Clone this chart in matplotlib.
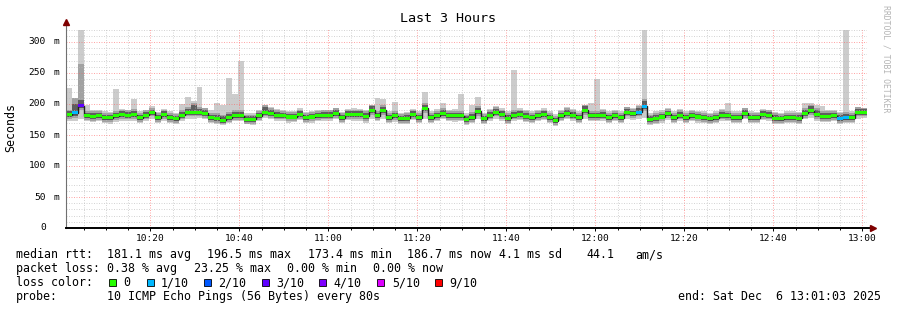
import matplotlib
matplotlib.use('Agg')
import matplotlib.pyplot as plt
import matplotlib.dates as mdates
from matplotlib.patches import Rectangle
import numpy as np
import datetime as dt

# one consolidated sample every 80 s, 10:01:03 -> 13:01:03
start = dt.datetime(2025, 12, 6, 10, 1, 3)
end = dt.datetime(2025, 12, 6, 13, 1, 3)
step_s = 80

# median rtt (ms) per step
med = [183, 186, 197, 181, 180, 181, 178, 178, 181, 183, 182, 183, 178, 182, 187,
       178, 183, 178, 176, 182, 187, 187, 187, 185, 178, 177, 174, 178, 181, 181,
       175, 175, 181, 187, 185, 182, 182, 179, 179, 183, 178, 179, 181, 182, 182,
       185, 178, 183, 183, 183, 180, 190, 181, 190, 178, 181, 176, 177, 183, 178,
       193, 178, 181, 184, 181, 181, 181, 175, 178, 188, 176, 182, 187, 183, 177,
       182, 183, 180, 178, 181, 183, 178, 173, 181, 185, 182, 178, 190, 181, 181,
       182, 178, 181, 178, 187, 184, 187, 196, 175, 177, 179, 184, 178, 182, 178,
       181, 179, 178, 176, 178, 182, 181, 178, 178, 185, 178, 178, 183, 182, 177,
       176, 178, 178, 177, 185, 189, 183, 180, 180, 181, 177, 178, 178, 187, 187]

# slowest / fastest ping per step (outer smoke)
hi = [225, 210, 320, 198, 190, 190, 188, 187, 224, 192, 190, 208, 188, 190, 196,
      187, 192, 189, 186, 200, 212, 205, 227, 194, 190, 202, 198, 242, 216, 270,
      186, 186, 190, 198, 195, 192, 190, 188, 188, 193, 187, 188, 190, 191, 190,
      194, 187, 192, 193, 192, 190, 198, 210, 208, 188, 203, 186, 187, 192, 188,
      220, 188, 192, 201, 191, 192, 216, 186, 198, 212, 186, 192, 196, 193, 188,
      255, 193, 190, 188, 191, 193, 188, 184, 190, 195, 192, 188, 198, 202, 240,
      192, 188, 190, 188, 195, 193, 198, 320, 186, 188, 190, 193, 188, 192, 188,
      191, 189, 188, 186, 188, 192, 202, 188, 188, 194, 188, 187, 192, 191, 187,
      186, 188, 189, 187, 202, 202, 198, 196, 190, 190, 187, 320, 188, 195, 193]
lo = [172, 172, 176, 172, 171, 172, 170, 168, 171, 173, 172, 172, 169, 172, 176,
      170, 173, 169, 167, 172, 176, 176, 177, 175, 169, 168, 166, 169, 172, 172,
      167, 166, 172, 177, 176, 173, 172, 170, 171, 174, 169, 170, 172, 173, 173,
      175, 169, 174, 173, 172, 170, 175, 172, 176, 169, 171, 167, 168, 174, 169,
      176, 169, 172, 175, 172, 171, 172, 166, 169, 176, 167, 172, 176, 173, 168,
      172, 174, 171, 169, 172, 174, 169, 165, 172, 175, 173, 169, 175, 172, 172,
      173, 169, 172, 169, 176, 174, 176, 178, 166, 168, 170, 174, 169, 172, 169,
      172, 170, 169, 167, 169, 173, 172, 169, 169, 175, 169, 169, 174, 173, 168,
      167, 169, 169, 168, 175, 178, 173, 171, 171, 172, 168, 169, 169, 176, 177]

# middle smoke band
hi_m = [191, 210, 265, 189, 188, 189, 186, 186, 189, 191, 190, 192, 186, 190, 194,
        186, 191, 186, 184, 190, 195, 201, 195, 193, 186, 185, 183, 187, 190, 190,
        183, 183, 189, 198, 193, 190, 189, 187, 187, 191, 186, 187, 189, 190, 190,
        193, 186, 191, 191, 191, 188, 198, 189, 198, 186, 189, 184, 185, 191, 186,
        201, 186, 189, 193, 189, 189, 189, 183, 187, 196, 184, 190, 195, 191, 185,
        190, 191, 188, 186, 189, 191, 186, 181, 189, 193, 190, 186, 198, 189, 189,
        190, 186, 189, 186, 195, 192, 196, 208, 183, 185, 187, 192, 186, 190, 186,
        189, 187, 186, 184, 186, 190, 189, 186, 186, 193, 186, 186, 191, 190, 185,
        184, 186, 186, 185, 194, 199, 193, 189, 189, 189, 185, 187, 186, 195, 193]
lo_m = [176, 178, 190, 174, 173, 174, 171, 171, 174, 176, 175, 176, 171, 175, 180,
        171, 176, 171, 169, 175, 180, 180, 180, 178, 171, 170, 167, 171, 174, 174,
        168, 168, 174, 180, 178, 175, 175, 172, 172, 176, 171, 172, 174, 175, 175,
        178, 171, 176, 176, 176, 173, 183, 174, 183, 171, 174, 169, 170, 176, 171,
        186, 171, 174, 177, 174, 174, 174, 168, 171, 181, 169, 175, 180, 176, 170,
        175, 176, 173, 171, 174, 176, 171, 166, 174, 178, 175, 171, 183, 174, 174,
        175, 171, 174, 171, 180, 177, 180, 189, 168, 170, 172, 177, 171, 175, 171,
        174, 172, 171, 169, 171, 175, 174, 171, 171, 178, 171, 171, 176, 175, 170,
        169, 171, 171, 170, 178, 182, 176, 173, 173, 174, 170, 171, 171, 180, 180]

# inner smoke band
hi2 = [188, 200, 206, 186, 185, 186, 183, 183, 186, 188, 187, 189, 183, 187, 191,
       183, 188, 183, 181, 187, 192, 198, 192, 190, 183, 182, 180, 184, 187, 187,
       180, 180, 186, 195, 190, 187, 186, 184, 184, 188, 183, 184, 186, 187, 187,
       190, 183, 188, 188, 188, 185, 196, 186, 195, 183, 186, 181, 182, 188, 183,
       198, 183, 186, 190, 186, 186, 186, 180, 184, 193, 181, 187, 192, 188, 182,
       187, 188, 185, 183, 186, 188, 183, 178, 186, 190, 187, 183, 196, 186, 186,
       187, 183, 186, 183, 192, 189, 193, 205, 180, 182, 184, 189, 183, 187, 183,
       186, 184, 183, 181, 183, 187, 186, 183, 183, 190, 183, 183, 188, 187, 182,
       181, 183, 183, 182, 191, 196, 190, 186, 186, 186, 182, 184, 183, 192, 192]
lo2 = [179, 181, 193, 177, 176, 177, 174, 174, 177, 179, 178, 179, 174, 178, 183,
       174, 179, 174, 172, 178, 183, 183, 183, 181, 174, 173, 170, 174, 177, 177,
       171, 171, 177, 183, 181, 178, 178, 175, 175, 179, 174, 175, 177, 178, 178,
       181, 174, 179, 179, 179, 176, 186, 177, 186, 174, 177, 172, 173, 179, 174,
       189, 174, 177, 180, 177, 177, 177, 171, 174, 184, 172, 178, 183, 179, 173,
       178, 179, 176, 174, 177, 179, 174, 169, 177, 181, 178, 174, 186, 177, 177,
       178, 174, 177, 174, 183, 180, 183, 192, 171, 173, 175, 180, 174, 178, 174,
       177, 175, 174, 172, 174, 178, 177, 174, 174, 181, 174, 174, 179, 178, 173,
       172, 174, 174, 173, 181, 185, 179, 176, 176, 177, 173, 174, 174, 183, 183]

# steps with packet loss -> loss bin
loss = {1: '1/10', 2: '3/10', 96: '1/10', 97: '1/10', 130: '1/10', 131: '1/10'}

loss_labels = ['0', '1/10', '2/10', '3/10', '4/10', '5/10', '9/10']
loss_colors = ['#26ff00', '#00b8ff', '#0059ff', '#5e00ff', '#7e00ff', '#dd00ff', '#ff0000']

yticks = [0, 50, 100, 150, 200, 250, 300]

title = 'Last 3 Hours'
ylabel = 'Seconds'
rtt_line = ['median rtt:', '181.1 ms avg', '196.5 ms max', '173.4 ms min',
            '186.7 ms now', '4.1 ms sd', '44.1', 'am/s']
loss_line = ['packet loss:', '0.38 % avg', '23.25 % max', '0.00 % min', '0.00 % now']
probe_line = ['probe:', '10 ICMP Echo Pings (56 Bytes) every 80s']
end_text = 'end: Sat Dec  6 13:01:03 2025'
watermark = 'RRDTOOL / TOBI OETIKER'

MONO = 'DejaVu Sans Mono'
W, H = 897, 310
L, R, T, B = 66, 867, 28, 228

n = len(med)
edges = mdates.date2num([start + dt.timedelta(seconds=step_s * k) for k in range(n + 1)])

fig = plt.figure(figsize=(W / 100, H / 100), dpi=100)
fig.patch.set_facecolor('white')
ax = fig.add_axes([L / W, 1 - B / H, (R - L) / W, (B - T) / H])
ax.set_xlim(mdates.date2num(start), mdates.date2num(end))
ax.set_ylim(0, (B - T) / 0.62)

# smoke
ax.stairs(hi, edges, baseline=lo, fill=True, color='#cccccc', lw=0, zorder=1)
ax.stairs(hi_m, edges, baseline=lo_m, fill=True, color='#a2a2a2', lw=0, zorder=1.5)
ax.stairs(hi2, edges, baseline=lo2, fill=True, color='#5e5e5e', lw=0, zorder=2)

# median line + loss coloured band
ax.stairs(med, edges, baseline=None, color='#202020', lw=1, zorder=3)
cols = [loss_colors[loss_labels.index(loss.get(k, '0'))] for k in range(n)]
ax.bar(edges[:-1], [5] * n, bottom=np.array(med) - 2.5, width=np.diff(edges),
       align='edge', color=cols, lw=0, zorder=4)

# grid
ax.xaxis.set_major_locator(mdates.MinuteLocator(byminute=[0, 20, 40]))
ax.xaxis.set_minor_locator(mdates.MinuteLocator(byminute=range(0, 60, 5)))
ax.xaxis.set_major_formatter(mdates.DateFormatter('%H:%M'))
ax.set_yticks(yticks)
ax.set_yticks(np.arange(0, 321, 10), minor=True)
ax.grid(which='minor', color='#bababa', alpha=0.6, lw=0.72, ls=(0, (1, 1.5)))
ax.grid(which='major', color='#ff5f5f', alpha=0.55, lw=0.72, ls=(0, (1, 1.5)))
ax.set_axisbelow(False)

for s in ax.spines.values():
    s.set_visible(False)
ax.tick_params(axis='y', which='both', length=0, labelleft=False)
ax.tick_params(axis='x', which='major', length=2.2, width=0.7, color='black',
               pad=1.8, labelsize=6.8)
ax.tick_params(axis='x', which='minor', length=1.4, width=0.7, color='black')
for lab in ax.get_xticklabels():
    lab.set_family(MONO)

# axes with arrows
ax.plot([0, 0], [0, 1 + 6 / (B - T)], transform=ax.transAxes, color='#707070',
        lw=0.8, clip_on=False, zorder=6)
ax.plot([0, 1 + 5 / (R - L)], [0, 0], transform=ax.transAxes, color='black',
        lw=1.4, clip_on=False, zorder=6)
ax.plot([0], [1 + 6 / (B - T)], transform=ax.transAxes, marker='^', ms=4,
        color='#7f0000', clip_on=False, zorder=7)
ax.plot([1 + 6 / (R - L)], [0], transform=ax.transAxes, marker='>', ms=4,
        color='#7f0000', clip_on=False, zorder=7)

# y labels: number right aligned, unit after it
ytr = ax.get_yaxis_transform()
for v in yticks:
    ax.text((46 - L) / (R - L), v, str(v), transform=ytr, ha='right', va='center',
            fontsize=6.8, family=MONO, color='#000000')
    if v > 0:
        ax.text((53 - L) / (R - L), v, 'm', transform=ytr, ha='left', va='center',
                fontsize=6.8, family=MONO, color='#000000')


def ftext(x, y, s, **kw):
    kw.setdefault('fontsize', 8.4)
    kw.setdefault('family', MONO)
    kw.setdefault('va', 'center')
    fig.text(x / W, 1 - y / H, s, **kw)


ftext(448, 19, title, ha='center', fontsize=9.6)
ftext(11, 127, ylabel, ha='center', rotation=90)
ftext(886, 59, watermark, ha='center', rotation=270, fontsize=5.9, color='#b4b4b4')

for s, x in zip(rtt_line, [16, 107, 207, 308, 407, 499, 586, 635]):
    ftext(x, 254.5, s)
for s, x in zip(loss_line, [16, 107, 194, 287, 373]):
    ftext(x, 268.5, s)
ftext(16, 282.5, 'loss color:')
for lab, col, sx, tx in zip(loss_labels, loss_colors,
                            [109, 147, 204, 262, 319, 377, 435],
                            [123, 161, 218, 276, 333, 392, 449]):
    fig.add_artist(Rectangle((sx / W, 1 - 286 / H), 7 / W, 7 / H,
                             transform=fig.transFigure, facecolor=col,
                             edgecolor='black', lw=0.6))
    ftext(tx, 282.5, lab)
for s, x in zip(probe_line, [16, 107]):
    ftext(x, 296.5, s)
ftext(881, 296.5, end_text, ha='right')

plt.savefig('out.png', dpi=100)
